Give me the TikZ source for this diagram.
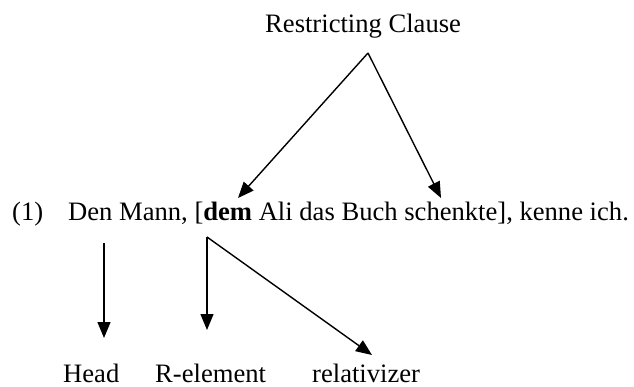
\documentclass[tikz,border=0pt]{standalone}
\usepackage{fontspec}
\setmainfont{Liberation Serif}
\usetikzlibrary{arrows.meta}
\begin{document}
\begin{tikzpicture}[x=1pt,y=-1pt,
  lbl/.style={anchor=base west,inner sep=0pt,font=\fontsize{26.6}{32}\selectfont},
  conn/.style={line width=1.4pt,-{Triangle[length=16pt,width=13pt]}}]
\useasboundingbox (0,0) rectangle (634,387);
\node[lbl] (rc) at (265,33) {Restricting Clause};
\node[lbl] (num) at (12,221) {(1)};
\node[lbl] (sent) at (68,221) {Den Mann, [\textbf{dem} Ali das Buch schenkte], kenne ich.};
\node[lbl] (head) at (63,382) {Head};
\node[lbl] (rel) at (155,382) {R-element};
\node[lbl] (relz) at (312,382) {relativizer};
\coordinate (apex) at (368,53);
\coordinate (demtip) at (238,198);
\coordinate (schtip) at (441,198);
\coordinate (headtop) at (104,243);
\coordinate (headtip) at (104,338);
\coordinate (rtop) at (207,237);
\coordinate (rtip) at (207,330);
\coordinate (relztip) at (372,355);
\draw[conn] (apex) -- (demtip);
\draw[conn] (apex) -- (schtip);
\draw[conn] (headtop) -- (headtip);
\draw[conn] (rtop) -- (rtip);
\draw[conn] (rtop) -- (relztip);
\end{tikzpicture}
\end{document}
